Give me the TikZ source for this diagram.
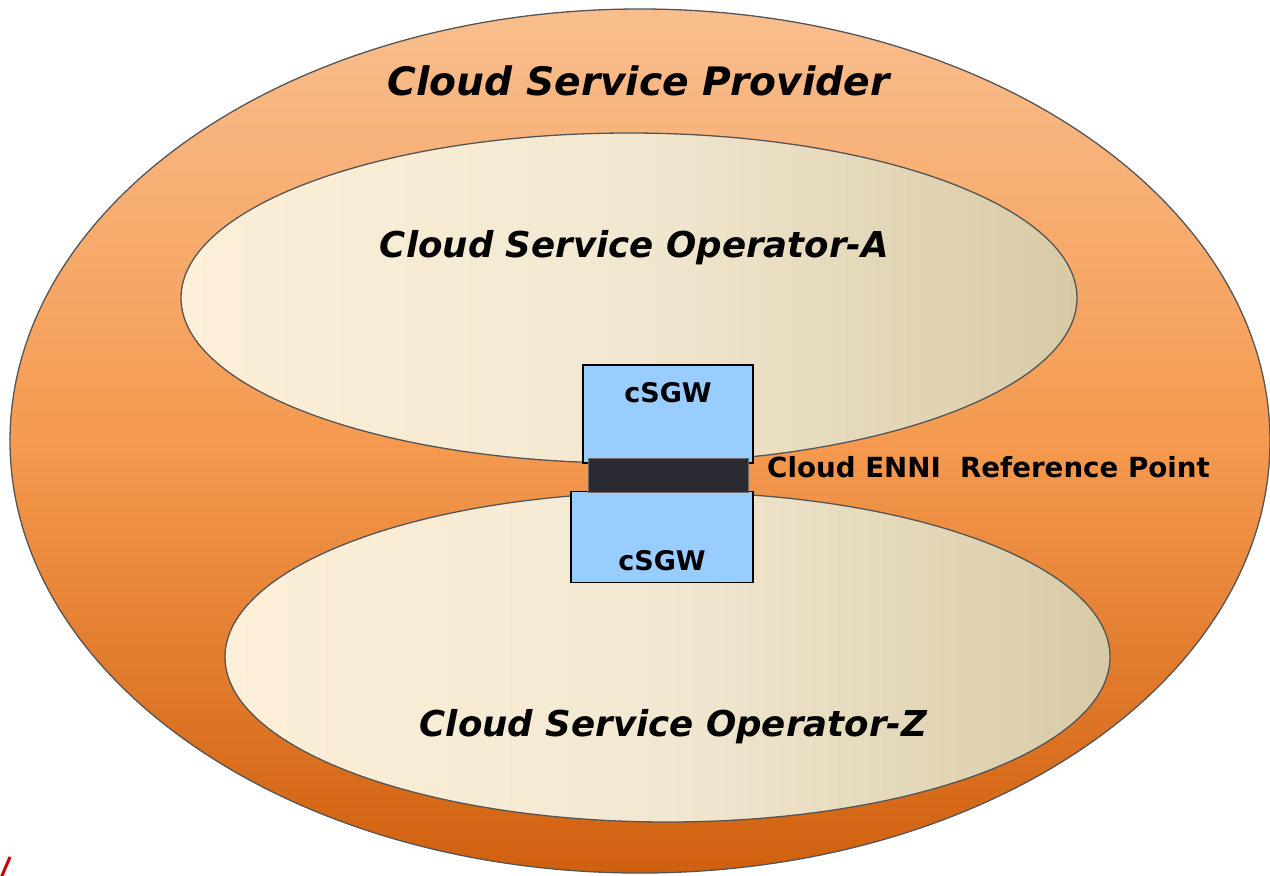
\documentclass[tikz,border=0pt]{standalone}
\usepackage{fontspec}
\setmainfont{DejaVu Sans}
\usetikzlibrary{shapes.geometric}
\definecolor{outline}{HTML}{555555}
\definecolor{orTop}{HTML}{F9BE8E}
\definecolor{orMid}{HTML}{F59A50}
\definecolor{orBot}{HTML}{D0600E}
\definecolor{crL}{HTML}{FDEFD8}
\definecolor{crM}{HTML}{F2E8D1}
\definecolor{crR}{HTML}{D8CAA6}
\definecolor{gwblue}{HTML}{99CCFF}
\definecolor{bardark}{HTML}{2A2A33}
\definecolor{slashred}{HTML}{CC0000}
\tikzset{
  zone/.style={ellipse, draw=outline, line width=1.3pt, inner sep=0pt},
  gwbox/.style={rectangle, draw=black, line width=1.2pt, fill=gwblue, inner sep=0pt},
  title/.style={font=\fontsize{39.2}{44}\selectfont\bfseries\itshape, inner sep=0pt, anchor=base},
  optitle/.style={font=\fontsize{35.6}{42}\selectfont\bfseries\itshape, inner sep=0pt, anchor=base},
  lbl/.style={font=\fontsize{27}{32}\selectfont\bfseries, inner sep=0pt, anchor=base},
}
\begin{document}
\begin{tikzpicture}[x=1pt,y=-1pt]
\useasboundingbox (0,0) rectangle (1270,876);
% outer ellipse
\node[zone, minimum width=1260pt, minimum height=864pt,
      top color=orTop, bottom color=orBot, middle color=orMid] (csp) at (640,441) {};
% inner ellipses
\node[zone, minimum width=896pt, minimum height=330pt,
      left color=crL, right color=crR, middle color=crM] (opa) at (629,298) {};
\node[zone, minimum width=885pt, minimum height=330pt,
      left color=crL, right color=crR, middle color=crM] (opz) at (667.5,657) {};
% titles
\node[title] (tcsp) at (638.5,95) {Cloud Service Provider};
\node[optitle] (topa) at (634.5,257) {Cloud Service Operator-A};
\node[optitle] (topz) at (673.5,736) {Cloud Service Operator-Z};
% gateways
\node[gwbox, minimum width=170pt, minimum height=98pt] (gwa) at (668,414) {};
\node[gwbox, minimum width=182pt, minimum height=91pt] (gwz) at (662,537) {};
\node[rectangle, fill=bardark, draw=bardark!70!white, line width=0.8pt, inner sep=0pt,
      minimum width=160pt, minimum height=34pt] (enni) at (668,475) {};
\node[lbl] (tgwa) at (668,402) {cSGW};
\node[lbl] (tgwz) at (662,570) {cSGW};
\node[lbl, font=\fontsize{27.7}{32}\selectfont\bfseries, anchor=base west] (tenni) at (767,477) {Cloud ENNI\ \ Reference Point};
% red mark at the bottom left
\coordinate (s1) at (1,878);
\coordinate (s2) at (10,857);
\draw[slashred, line width=3pt] (s1) -- (s2);
\end{tikzpicture}
\end{document}
